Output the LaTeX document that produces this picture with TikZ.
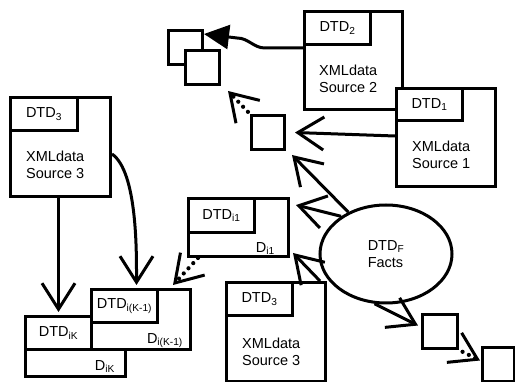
\documentclass[tikz,border=0pt]{standalone}
\usepackage{fontspec}
\setmainfont{Liberation Sans}
\usetikzlibrary{positioning,arrows.meta,shapes.geometric}

\begin{document}
\begin{tikzpicture}[x=1pt, y=-1pt,
	box/.style={draw, line width=3pt, fill=white, inner sep=0pt, anchor=north west, font=\fontsize{14.5}{16.5}\selectfont},
	txt/.style={inner sep=0pt, align=left, font=\fontsize{14.5}{16.5}\selectfont},
	sq/.style={box, minimum width=34pt, minimum height=34pt},
	barb/.style={line width=3pt, -{Straight Barb[length=26pt,width=33pt,line width=3pt]}},
	dots/.style={barb, line width=4.2pt, line cap=round, dash pattern=on 0pt off 7pt},
	solidarr/.style={line width=3pt, -{Triangle[length=25pt,width=24pt]}}]% sources, facts and the i-chain
	\useasboundingbox (0,0) rectangle (515,382);

	% left source and the i-chain
	\node[box, minimum width=100pt, minimum height=99pt] (srcL) at (9,96) {};
	\node[box, minimum width=67pt, minimum height=33pt] (srcLtab) at (srcL.north west) {DTD\textsubscript{3}};
	\node[txt, below right=19pt and 17pt of srcLtab.south west] (srcLtxt) {XMLdata\\Source 3};

	\node[box, minimum width=100pt, minimum height=60pt] (dK) at (24,315) {};
	\node[box, minimum width=66pt, minimum height=33pt] (dKtab) at (dK.north west) {DTD\textsubscript{iK}};
	\node[txt, above left=5pt and 12pt of dK.south east] (dKtxt) {D\textsubscript{iK}};

	\node[box, minimum width=99pt, minimum height=60pt] (dK1) at (90,288) {};
	\node[box, minimum width=66pt, minimum height=33pt] (dK1tab) at (dK1.north west) {DTD\textsubscript{i(K-1)}};
	\node[txt, above left=3pt and 9pt of dK1.south east] (dK1txt) {D\textsubscript{i(K-1)}};

	% middle
	\node[box, minimum width=100pt, minimum height=58pt] (di1) at (187,197) {};
	\node[box, minimum width=66pt, minimum height=34pt] (di1tab) at (di1.north west) {DTD\textsubscript{i1}};
	\node[txt, above left=3pt and 15pt of di1.south east] (di1txt) {D\textsubscript{i1}};

	\node[box, minimum width=99pt, minimum height=99pt] (srcB) at (225,281) {};
	\node[box, minimum width=66pt, minimum height=33pt] (srcBtab) at (srcB.north west) {DTD\textsubscript{3}};
	\node[txt, below right=21pt and 17pt of srcBtab.south west] (srcBtxt) {XMLdata\\Source 3};

	% right sources
	\node[box, minimum width=98pt, minimum height=98pt] (src2) at (303,10) {};
	\node[box, minimum width=66pt, minimum height=33pt] (src2tab) at (src2.north west) {DTD\textsubscript{2}};
	\node[txt, below right=19pt and 16pt of src2tab.south west] (src2txt) {XMLdata\\Source 2};

	\node[box, minimum width=99pt, minimum height=98pt] (src1) at (395,87) {};
	\node[box, minimum width=66pt, minimum height=32pt] (src1tab) at (src1.north west) {DTD\textsubscript{1}};
	\node[txt, below right=19pt and 17pt of src1tab.south west] (src1txt) {XMLdata\\Source 1};

	\node[ellipse, draw, line width=3pt, minimum width=132pt, minimum height=98pt, inner sep=0pt, align=left, font=\fontsize{14.5}{16.5}\selectfont] (facts) at (386,254) {DTD\textsubscript{F}\\Facts};

	% squares
	\node[sq] (sqA) at (167,29) {};
	\node[sq] (sqB) at (184,49) {};
	\node[sq, minimum width=33pt] (sqC) at (250,114) {};
	\node[sq, minimum width=35pt] (sqD) at (421,313) {};
	\node[sq, minimum width=32pt] (sqE) at (481,346) {};

	% arrows
	\draw[solidarr] ([yshift=-38pt]src2.north west) -- ++(-38,0) to[out=180,in=0] ++(-28,-10) -- ([yshift=-5pt]sqA.north east);
	\draw[barb] ([yshift=-49pt]src1.north west) -- ([xshift=9pt]sqC.east);
	\draw[barb] (facts.132) -- ([xshift=6pt,yshift=-4pt]sqC.south east);
	\draw[barb] (facts.140) -- ([xshift=6pt,yshift=-8pt]di1.north east);
	\draw[barb] ([xshift=-7pt]srcB.north east) -- ([xshift=3pt,yshift=5pt]di1.south east);
	\draw[barb] (facts.257) -- ([xshift=-3pt,yshift=6pt]sqD.west);
	\draw[dots, shorten <=4pt] (sqD.south east) -- ([xshift=-1pt,yshift=4pt]sqE.west);
	\draw[dots, shorten <=3pt] (sqC.north west) -- ([xshift=7pt,yshift=-5pt]sqB.south east);
	\draw[dots] ([xshift=11pt]di1.south west) -- ([xshift=-19pt,yshift=3pt]dK1.north east);
	\draw[barb] (dKtab.north |- srcL.south) -- ([yshift=3pt]dKtab.north);
	\draw[barb] ([yshift=-7pt]srcL.east) to[out=-35,in=90,looseness=0.6] ([xshift=12pt,yshift=3pt]dK1tab.north);
\end{tikzpicture}
\end{document}
